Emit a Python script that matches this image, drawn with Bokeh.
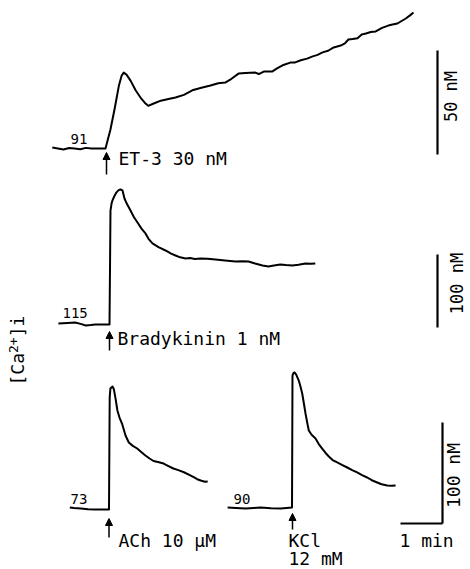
from math import pi

from bokeh.plotting import figure
from bokeh.models import Range1d, Label, Arrow, NormalHead
from bokeh.embed import file_html
from bokeh.resources import INLINE

W, H = 470, 569
FONT = "DejaVu Sans Mono"
INK = "black"

# ---- recordings: time from stimulus (s), [Ca2+]i (nM) ----
et3_basal = 91
et3_t = [-76, -68, -60, -52, -44, -36, -28, -20, -12, -4, 0,
         7, 13, 19, 23, 26, 30, 36, 43, 50, 56, 61, 68, 79, 90, 100, 112,
         124, 137, 150, 161, 171, 180, 190, 200, 214, 219, 226, 238, 245,
         253, 264, 271, 279, 288, 296, 303, 310, 318, 326, 336, 342, 347,
         353, 360, 366, 372, 379, 386, 395, 404, 410, 417, 423, 429, 435, 440]
et3_ca = [91.5, 91, 90.5, 91.2, 91, 90.6, 91.3, 91, 91, 91, 91,
          100, 110, 121, 126, 127.5, 126.5, 123.5, 119, 115.5, 113, 111.5,
          112.5, 114, 114.8, 115.5, 116.8, 119, 120.2, 121.3, 122.4, 122.7,
          124.5, 127, 127.3, 127.5, 126.8, 128, 128, 129.5, 131, 132.3,
          132.4, 133.4, 134.2, 135.3, 136, 137.2, 138, 139.6, 140.5, 141.5,
          143.4, 143.6, 144, 145.8, 146.3, 147, 147.3, 149, 150.1, 150.6,
          151.1, 152.3, 153.5, 155, 156.4]

bk_basal = 115
bk_t = [-73, -60, -49, -40, -34, -27, -20, -10, 0,
        0.8, 1.4, 3, 4.3, 7, 10, 13, 15.7, 18.6, 21.4, 25, 30, 35, 40, 46,
        51.4, 56, 61.4, 70, 80, 88, 94.3, 101, 108.6, 115, 122, 130, 140,
        151.4, 165, 180, 190, 198.6, 208, 218.6, 227, 235, 244, 252, 261,
        270, 280, 288, 294]
bk_ca = [116.4, 117.2, 117.7, 115.5, 113.6, 114.2, 115, 115, 115,
         200, 271, 281, 285, 291, 296, 299, 300, 298.6, 287.6, 280, 271.2,
         262, 254.7, 246, 239.7, 232, 226, 221, 216.4, 212, 209.5, 207,
         205.4, 206, 204.8, 205.4, 205, 204, 202.6, 201.3, 201.8, 201.3,
         198.6, 195.8, 194.5, 195.8, 197.2, 196.4, 195.8, 196.8, 198.6,
         198.2, 198.6]

ach_basal = 73
ach_t = [-56, -50, -40, -30, -19, -8, 0,
         0.5, 1, 2, 5, 7, 9.3, 12, 15, 19, 23.6, 28.3, 34, 40.3, 46, 52, 58,
         63.6, 70, 78, 85, 92, 99, 107, 114, 121, 126, 131, 137, 141]
ach_ca = [75, 74.5, 74, 73.2, 73, 73, 73,
          130, 184, 192.8, 194.8, 192, 183, 171, 164, 157.2, 146.3, 139.3,
          136, 133.4, 130, 126.5, 123.5, 121, 120, 118.5, 116, 113.6, 112,
          109.9, 107.5, 105, 103, 101.7, 100.5, 100.7]

kcl_basal = 90
kcl_t = [-92, -80, -66, -55, -45, -30, -16, -8, 0,
         0.4, 0.7, 2, 3.6, 6, 9.7, 12, 14.6, 17, 19.3, 22, 24, 28, 33.6, 38,
         43.1, 48, 52.6, 58, 64.6, 72, 78.9, 86, 93.1, 100, 107.4, 114,
         121.7, 128, 136, 142, 148]
kcl_ca = [90, 89.6, 89, 89.5, 90, 89.2, 89, 89.5, 90,
          160, 220.7, 223, 223.7, 221.5, 215.7, 210, 202.9, 193, 183.1, 173,
          166.2, 162, 158.3, 153, 148.4, 144, 140.5, 137, 134.6, 132, 129.6,
          127, 124.7, 122, 119.7, 117, 114.8, 113, 111.8, 111.5, 111.8]

# calibration bars
et3_bar_nm = 50
bk_bar_nm = 100
low_bar_nm = 100
time_bar_s = 60

# ---- drawing scales ----
PX_PER_S = 42 / 60          # shared time base
ET3_PX_NM = 2.08
BK_PX_NM = 0.73
LOW_PX_NM = 1.01

p = figure(width=W, height=H, x_range=Range1d(0, W), y_range=Range1d(H, 0),
           output_backend="svg", toolbar_location=None,
           x_axis_location=None, y_axis_location=None,
           min_border=0, outline_line_color=None,
           background_fill_color="white", border_fill_color="white")
p.grid.visible = False


def trace_ranges(name, stim_px, base_px, basal, px_nm):
    """Named ranges placing stimulus time 0 at stim_px and the basal level at base_px."""
    p.extra_x_ranges[name] = Range1d(-stim_px / PX_PER_S, (W - stim_px) / PX_PER_S)
    p.extra_y_ranges[name] = Range1d(basal - (H - base_px) / px_nm, basal + base_px / px_nm)


def bar_range(name, anchor_px, px_nm):
    p.extra_y_ranges[name] = Range1d((anchor_px - H) / px_nm, anchor_px / px_nm)


trace_ranges("et3", 105, 148, et3_basal, ET3_PX_NM)
trace_ranges("bk", 109, 324, bk_basal, BK_PX_NM)
trace_ranges("ach", 108.5, 509, ach_basal, LOW_PX_NM)
trace_ranges("kcl", 291.5, 507, kcl_basal, LOW_PX_NM)

for name, t, ca in [("et3", et3_t, et3_ca), ("bk", bk_t, bk_ca),
                    ("ach", ach_t, ach_ca), ("kcl", kcl_t, kcl_ca)]:
    p.line(t, ca, x_range_name=name, y_range_name=name,
           line_color=INK, line_width=2, line_join="round")

# vertical calibration bars
bar_range("bar_et3", 154, ET3_PX_NM)
bar_range("bar_bk", 327, BK_PX_NM)
bar_range("bar_low", 523, LOW_PX_NM)
p.segment(x0=437, x1=437, y0=0, y1=et3_bar_nm, y_range_name="bar_et3",
          line_color=INK, line_width=2.2)
p.segment(x0=437, x1=437, y0=0, y1=bk_bar_nm, y_range_name="bar_bk",
          line_color=INK, line_width=2.2)
p.segment(x0=442, x1=442, y0=0, y1=low_bar_nm, y_range_name="bar_low",
          line_color=INK, line_width=2.2)

# horizontal time bar, ending at the corner of the lower calibration bar
p.extra_x_ranges["bar_time"] = Range1d(-442 / PX_PER_S, (W - 442) / PX_PER_S)
p.segment(x0=-time_bar_s, x1=0, y0=523, y1=523, x_range_name="bar_time",
          line_color=INK, line_width=2.2)

# stimulus arrows
for x, tip, tail in [(106, 152, 174), (109, 331, 350), (108.5, 518, 537), (292, 513, 529)]:
    p.add_layout(Arrow(x_start=x, y_start=tail, x_end=x, y_end=tip,
                       line_color=INK, line_width=1.5,
                       end=NormalHead(size=7, fill_color=INK, line_color=INK)))


def label(text, x, y, size, **kw):
    p.add_layout(Label(x=x, y=y, text=text, text_font=FONT,
                       text_font_size=f"{size}px", text_color=INK, **kw))


# basal levels
label(str(et3_basal), 70, 143, 14)
label(str(bk_basal), 62, 317, 14)
label(str(ach_basal), 70, 503, 14)
label(str(kcl_basal), 233, 503, 14)

# stimuli
label("ET-3 30 nM", 118, 168, 18)
label("Bradykinin 1 nM", 117, 348, 18)
label("ACh 10 µM", 118, 550, 18)
label("KCl", 288, 550, 18)
label("12 mM", 288, 568, 18)
label("1 min", 399, 550, 18)

# calibration texts
label(f"{et3_bar_nm} nM", 450, 96, 17, angle=pi / 2, text_align="center", text_baseline="middle")
label(f"{bk_bar_nm} nM", 456, 283, 17, angle=pi / 2, text_align="center", text_baseline="middle")
label(f"{low_bar_nm} nM", 453, 475, 18, angle=pi / 2, text_align="center", text_baseline="middle")

# y quantity, [Ca2+]i written upwards with a raised "2+"
CHAR_EM = 0.602
y0 = 385
label("[Ca", 27, y0, 18, angle=pi / 2)
y1 = y0 - 3 * CHAR_EM * 18
label("2+", 17, y1, 13, angle=pi / 2)
y2 = y1 - 2 * CHAR_EM * 13
label("]i", 27, y2, 18, angle=pi / 2)

open("out.html", "w").write(file_html(p, INLINE))
